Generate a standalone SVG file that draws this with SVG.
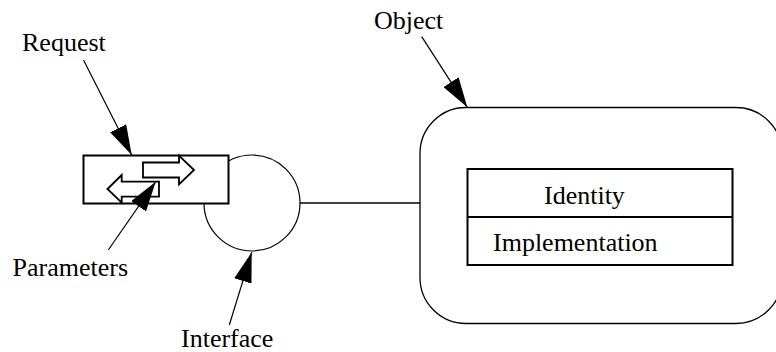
<svg xmlns="http://www.w3.org/2000/svg" width="776" height="352" viewBox="0 0 776 352">
<style>
text{font-family:"Liberation Serif","Times New Roman",serif;font-size:26px;fill:#000}
.ptr{stroke:#000;stroke-width:1.2;fill:none;marker-end:url(#ah)}
.hollow{fill:#fff;stroke:#000;stroke-width:1.8;stroke-linejoin:miter}
</style>
<defs>
<marker id="ah" viewBox="0 0 30 18" refX="30" refY="9" markerWidth="30" markerHeight="18" orient="auto" markerUnits="userSpaceOnUse">
<path d="M0,0 L30,9 L0,18 z" fill="#000"/>
</marker>
</defs>
<rect width="776" height="352" fill="#fff"/>
<g id="connectors">
<line x1="300" y1="203" x2="420" y2="203" stroke="#000" stroke-width="1.5"/>
</g>
<g id="interface">
<circle cx="252" cy="203" r="48" fill="#fff" stroke="#000" stroke-width="1.2"/>
</g>
<g id="request">
<rect x="83.5" y="155.5" width="145" height="48" fill="#fff" stroke="#000" stroke-width="2"/>
<path class="hollow" d="M143,162.5 H179 V155.5 L194,170 L179,184.5 V177.5 H143 Z"/>
<path class="hollow" d="M107.5,189 L121.7,175 V181.7 H159 V196.7 H121.7 V202.7 Z"/>
</g>
<g id="object">
<rect x="420" y="107.5" width="362" height="216" rx="46" ry="46" fill="#fff" stroke="#000" stroke-width="1.3"/>
<rect x="467.5" y="169" width="265" height="96" fill="#fff" stroke="#000" stroke-width="2"/>
<line x1="467.5" y1="217" x2="732.5" y2="217" stroke="#000" stroke-width="2"/>
<text x="544" y="204">Identity</text>
<text x="493" y="251">Implementation</text>
</g>
<g id="labels">
<text x="22" y="51">Request</text>
<text x="12.5" y="276">Parameters</text>
<text x="181" y="347">Interface</text>
<text x="374" y="29">Object</text>
</g>
<g id="pointers">
<line class="ptr" x1="83.5" y1="60" x2="131.7" y2="155"/>
<line class="ptr" x1="108.3" y1="250" x2="155.7" y2="181.7"/>
<line class="ptr" x1="229.3" y1="325" x2="251.7" y2="252.3"/>
<line class="ptr" x1="421.7" y1="36.7" x2="467.3" y2="107.3"/>
</g>
</svg>
